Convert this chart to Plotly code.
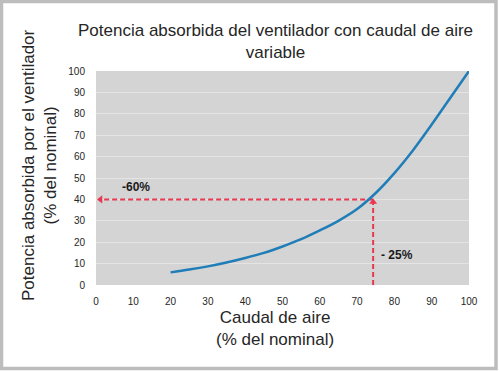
import plotly.graph_objects as go

# Curve data
caudal = [20, 25, 30, 35, 40, 45, 50, 55, 60, 65, 70, 75, 80, 85, 90, 95, 100]
potencia = [5.9, 7.2, 8.7, 10.5, 12.6, 15.0, 18.0, 21.4, 25.5, 30.0, 35.5, 43.0, 52.3, 63.0, 75.0, 87.5, 100.0]

# Reference point (dashed red guides)
ref_caudal = 74.3
ref_potencia = 40

x_ticks = [0, 10, 20, 30, 40, 50, 60, 70, 80, 90, 100]
y_ticks = [0, 10, 20, 30, 40, 50, 60, 70, 80, 90, 100]

label_h = "-60%"
label_v = "- 25%"

FONT = "Liberation Sans, Arial, sans-serif"
RED = "#e8384f"
TXT = "#262626"

W, H = 500, 371
L, R, T, B = 96, 31, 71, 86
PW, PH = W - L - R, H - T - B

def px(xpix):
    return (xpix - L) / PW

def py(ypix):
    return (H - B - ypix) / PH

fig = go.Figure()

# dashed guides
fig.add_trace(go.Scatter(x=[ref_caudal, 1.2], y=[ref_potencia, ref_potencia], mode="lines",
                         line=dict(color=RED, width=2, dash="5px,3px"), hoverinfo="skip"))
fig.add_trace(go.Scatter(x=[ref_caudal, ref_caudal], y=[0, ref_potencia - 1.5], mode="lines",
                         line=dict(color=RED, width=2, dash="5px,3px"), hoverinfo="skip"))
fig.add_trace(go.Scatter(x=[1.2], y=[ref_potencia], mode="markers",
                         marker=dict(symbol="triangle-left", size=7, color=RED), hoverinfo="skip"))
fig.add_trace(go.Scatter(x=[ref_caudal], y=[ref_potencia - 1.2], mode="markers",
                         marker=dict(symbol="triangle-up", size=7, color=RED), hoverinfo="skip"))

# curve
fig.add_trace(go.Scatter(x=caudal, y=potencia, mode="lines", line=dict(color="#1f7db8", width=2.5, shape="spline"),
                         hoverinfo="skip"))

fig.add_annotation(x=10.8, y=45.8, xref="x", yref="y", text="<b>%s</b>" % label_h, showarrow=False,
                   font=dict(size=12, color="#1a1a1a", family=FONT))
fig.add_annotation(x=80.6, y=14.0, xref="x", yref="y", text="<b>%s</b>" % label_v, showarrow=False,
                   font=dict(size=12, color="#1a1a1a", family=FONT))

# titles
fig.add_annotation(x=px(275), y=py(42), xref="paper", yref="paper",
                   text="Potencia absorbida del ventilador con caudal de aire<br>variable",
                   showarrow=False, font=dict(size=17, color=TXT, family=FONT), yanchor="middle")
fig.add_annotation(x=px(275), y=py(328), xref="paper", yref="paper",
                   text="Caudal de aire<br>(% del nominal)",
                   showarrow=False, font=dict(size=17, color=TXT, family=FONT), yanchor="middle")
fig.add_annotation(x=px(39), y=py(165), xref="paper", yref="paper",
                   text="Potencia absorbida por el ventilador<br>(% del nominal)", textangle=-90,
                   showarrow=False, font=dict(size=17, color=TXT, family=FONT), xanchor="center", yanchor="middle")

# outer border
fig.add_shape(type="rect", xref="paper", yref="paper",
              x0=px(1.5), x1=px(496), y0=py(368.5), y1=py(1.5),
              line=dict(color="#bdbdbd", width=3.5), fillcolor="rgba(0,0,0,0)", layer="below")

fig.update_layout(
    width=W, height=H,
    margin=dict(l=L, r=R, t=T, b=B),
    paper_bgcolor="white",
    plot_bgcolor="#d4d4d4",
    showlegend=False,
    font=dict(family=FONT, size=10, color=TXT),
)
fig.update_xaxes(range=[0, 100], tickvals=x_ticks, ticktext=[str(v) for v in x_ticks],
                 showgrid=False, zeroline=False, showline=False,
                 ticks="outside", ticklen=7, tickcolor="rgba(0,0,0,0)",
                 tickfont=dict(size=10, color=TXT, family=FONT), fixedrange=True)
fig.update_yaxes(range=[0, 100], tickvals=y_ticks, ticktext=[str(v) for v in y_ticks],
                 showgrid=True, gridcolor="#e4e4e4", gridwidth=1, zeroline=False, showline=False,
                 ticks="outside", ticklen=8, tickcolor="rgba(0,0,0,0)",
                 tickfont=dict(size=10, color=TXT, family=FONT), fixedrange=True)

fig.write_html("out.html", config={"displayModeBar": False},
               post_script="document.body.style.margin='0';document.body.style.overflow='hidden';")
